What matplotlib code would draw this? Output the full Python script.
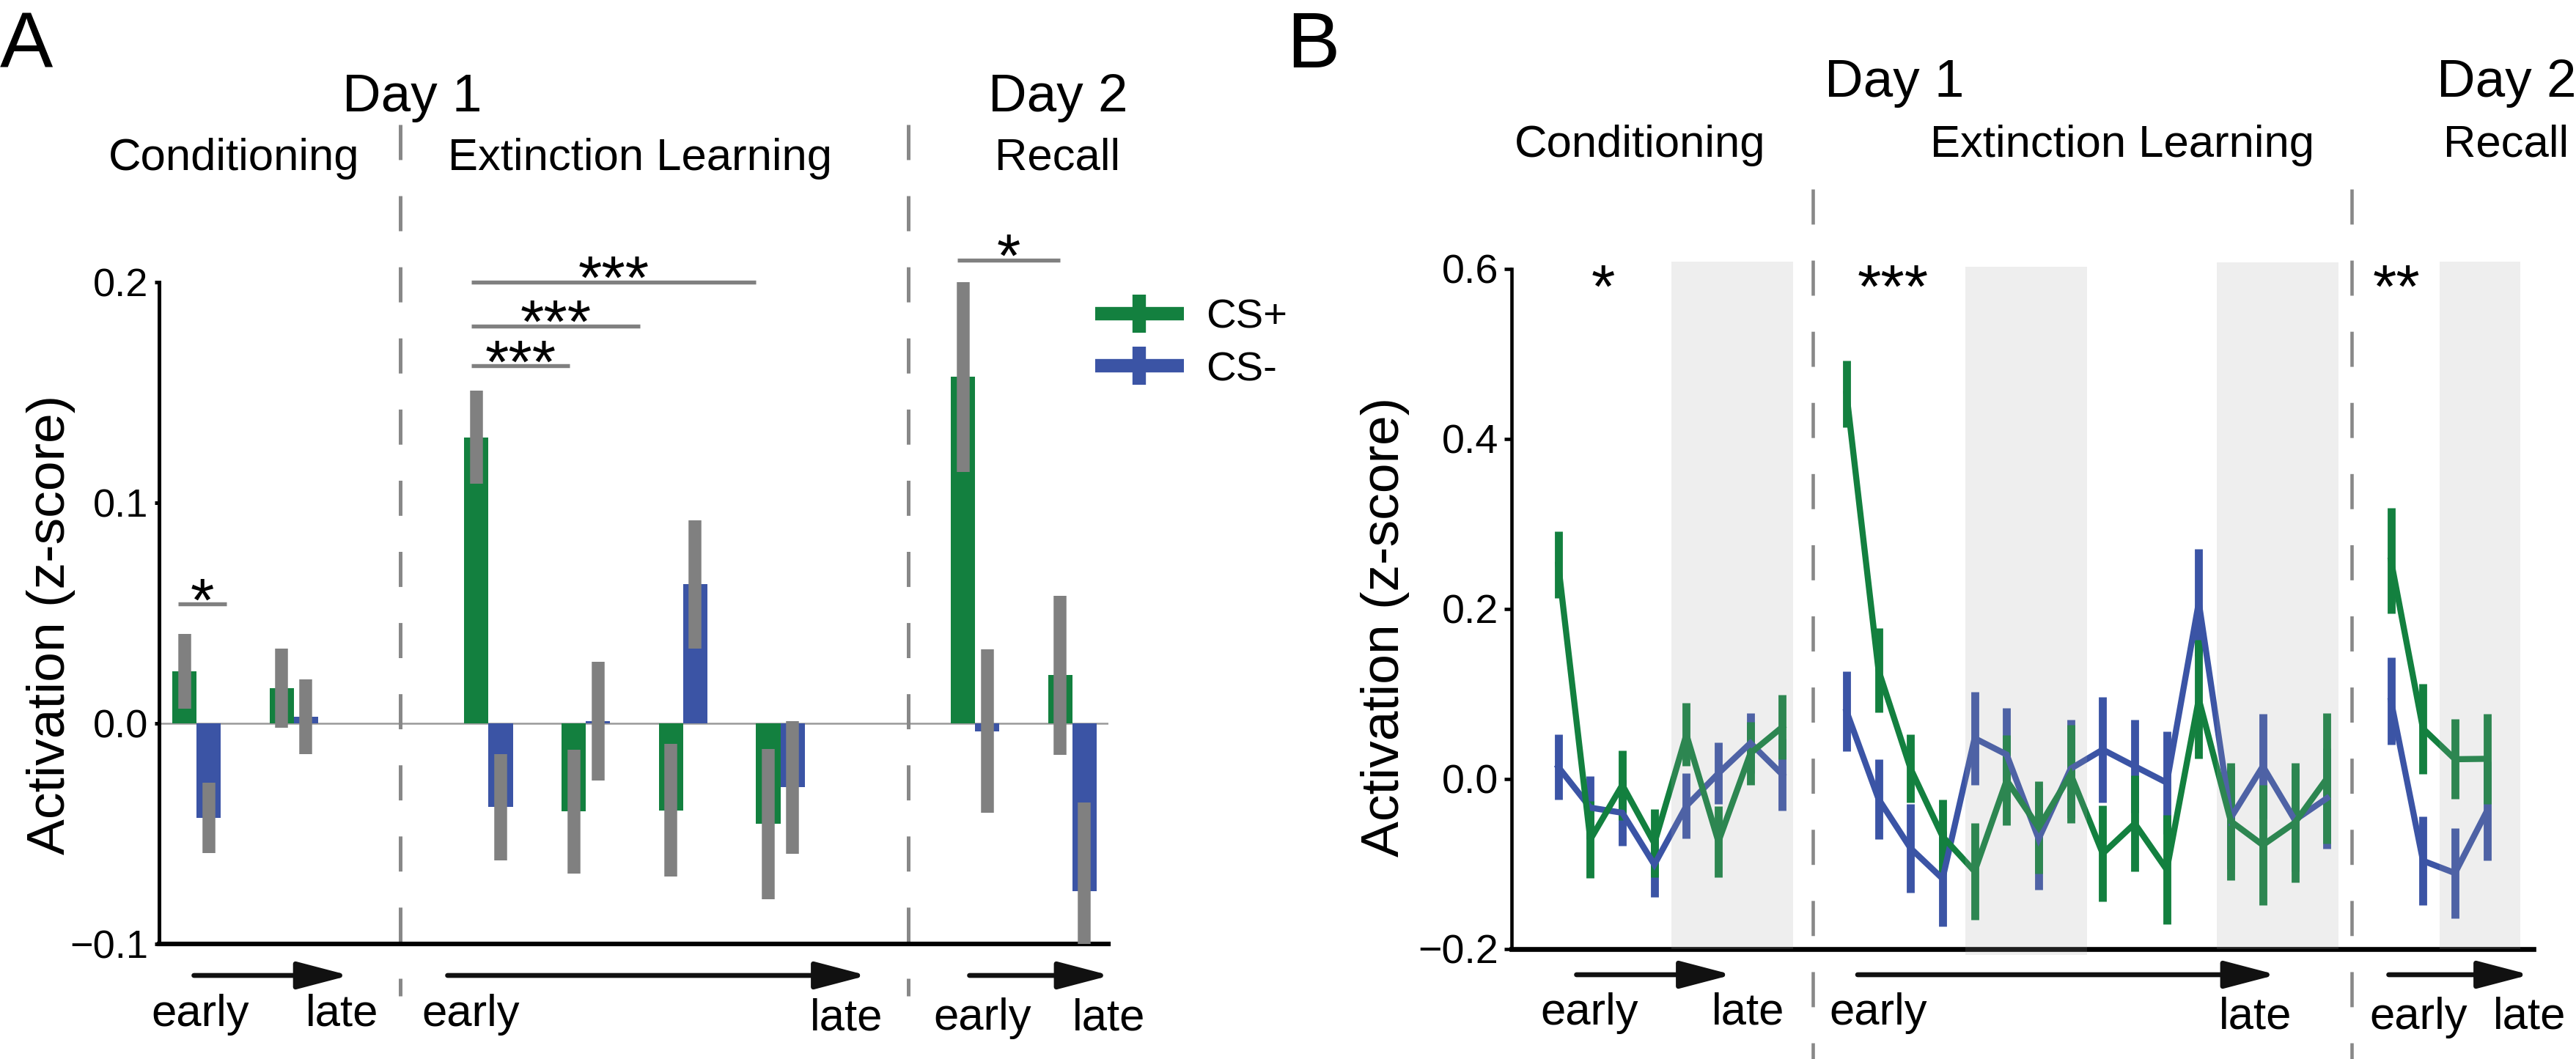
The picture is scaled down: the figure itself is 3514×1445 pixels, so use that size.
import matplotlib
matplotlib.use('Agg')
import matplotlib.pyplot as plt
import numpy as np
from matplotlib.lines import Line2D
from matplotlib.patches import FancyArrowPatch, ArrowStyle
from matplotlib.transforms import blended_transform_factory

plt.rcParams['font.family'] = ['Liberation Sans', 'DejaVu Sans']
plt.rcParams['lines.scale_dashes'] = False

W, H, DPI = 3514, 1445, 300

green = '#13803f'
blue = '#3b54a5'
grey = '#808080'
dash_grey = '#888888'

# ---------------- panel A data (bar means +- sem) ----------------
a_groups = ['cond early', 'cond late', 'ext 1', 'ext 2', 'ext 3', 'ext 4', 'recall early', 'recall late']
a_csp = [0.0235, 0.016, 0.1297, -0.040, -0.0394, -0.0456, 0.157, 0.0218]
a_csp_err = [0.017, 0.018, 0.021, 0.028, 0.030, 0.034, 0.043, 0.036]
a_csm = [-0.0428, 0.003, -0.038, 0.001, 0.063, -0.029, -0.0036, -0.076]
a_csm_err = [0.016, 0.017, 0.024, 0.027, 0.029, 0.030, 0.037, 0.040]
a_slot = [0, 1, 3, 4, 5, 6, 8, 9]

# significance brackets in panel A
sig_x0 = [-0.19, 2.825, 2.825, 2.825, 7.82]
sig_x1 = [0.31, 3.83, 4.56, 5.75, 8.87]
sig_y = [0.054, 0.162, 0.180, 0.200, 0.210]
sig_txt = ['*', '***', '***', '***', '*']

# ---------------- panel B data (trial means +- sem) ----------------
b_csp_cond = [0.252, -0.0715, -0.0073, -0.076, 0.052, -0.074, 0.030, 0.061]
b_csp_cond_err = [0.039, 0.045, 0.041, 0.040, 0.037, 0.042, 0.037, 0.038]
b_csm_cond = [0.0139, -0.034, -0.040, -0.101, -0.032, 0.0064, 0.042, 0.0048]
b_csm_cond_err = [0.038, 0.037, 0.0385, 0.0385, 0.0385, 0.036, 0.035, 0.042]

b_csp_ext = [0.453, 0.1276, 0.012, -0.068, -0.109, -0.0018, -0.0575, 0.0053,
             -0.088, -0.0527, -0.107, 0.0937, -0.050, -0.078, -0.0517, 0.0004]
b_csp_ext_err = [0.039, 0.0496, 0.040, 0.0435, 0.0567, 0.053, 0.0545, 0.0578,
                 0.0565, 0.0565, 0.064, 0.0696, 0.069, 0.071, 0.070, 0.0765]
b_csm_ext = [0.0794, -0.0238, -0.0818, -0.1176, 0.0477, 0.0285, -0.0707, 0.0119,
             0.0343, 0.0147, -0.0046, 0.2075, -0.046, 0.0147, -0.0486, -0.0229]
b_csm_ext_err = [0.047, 0.047, 0.052, 0.056, 0.055, 0.055, 0.060, 0.058,
                 0.062, 0.055, 0.0606, 0.063, 0.060, 0.062, 0.060, 0.059]

b_csp_rec = [0.257, 0.059, 0.023, 0.0235]
b_csp_rec_err = [0.062, 0.053, 0.047, 0.053]
b_csm_rec = [0.0918, -0.0965, -0.111, -0.0377]
b_csm_rec_err = [0.0512, 0.052, 0.053, 0.058]

b_offsets = [0, 9, 26]   # first trial slot of each phase

# late-trial shading (slot units) and significance stars
shade_x0 = [3.53, 12.71, 20.57, 27.53]
shade_x1 = [7.33, 16.51, 24.36, 30.03]
shade_top = [0.609, 0.603, 0.608, 0.609]
shade_bot = [-0.2, -0.207, -0.2, -0.2]
b_star_x = [1.40, 10.44, 26.17]
b_star_txt = ['*', '***', '**']


def fxy(px, py):
    # full-size pixel position -> figure fraction
    return px / W, 1 - py / H


fig = plt.figure(figsize=(W / DPI, H / DPI), dpi=DPI)

# ======================= panel A =======================
axA = fig.add_axes([0.06175, 0.10865, 0.43027 - 0.06175, 0.79605 - 0.10865])
xs = np.array(a_slot, dtype=float)
axA.axhline(0, color='#999999', lw=0.6, zorder=1)
axA.bar(xs - 0.125, a_csp, width=0.25, color=green, zorder=2)
axA.bar(xs + 0.125, a_csm, width=0.25, color=blue, zorder=2)
axA.errorbar(xs - 0.125, a_csp, yerr=a_csp_err, fmt='none', ecolor=grey, elinewidth=4.2, capsize=0, zorder=3)
axA.errorbar(xs + 0.125, a_csm, yerr=a_csm_err, fmt='none', ecolor=grey, elinewidth=4.2, capsize=0, zorder=3)

for x0, x1, y, s in zip(sig_x0, sig_x1, sig_y, sig_txt):
    axA.plot([x0, x1], [y, y], color=grey, lw=1.3, solid_capstyle='butt', clip_on=False)
    axA.annotate(s, xy=((x0 + x1) / 2, y), xytext=(0, -5.5), textcoords='offset points',
                 ha='center', va='baseline', fontsize=20)

axA.set_xlim(-0.385, 9.37)
axA.set_ylim(-0.1, 0.23)
axA.set_yticks([-0.1, 0.0, 0.1, 0.2])
axA.set_yticklabels(['\u22120.1', '0.0', '0.1', '0.2'])
axA.set_xticks([])
axA.spines['top'].set_visible(False)
axA.spines['right'].set_visible(False)
axA.spines['left'].set_bounds(-0.1, 0.2)
axA.spines['left'].set_linewidth(1.2)
axA.spines['bottom'].set_linewidth(1.5)
axA.tick_params(axis='y', length=1.5, width=1.2, pad=2, labelsize=13)

transA = blended_transform_factory(axA.transData, fig.transFigure)
for xd in [2.09, 7.31]:
    axA.plot([xd, xd], [1 - 170 / H, 1 - 1359 / H], transform=transA, clip_on=False,
             color=dash_grey, lw=1.2, dashes=(11.5, 11.8))

# ======================= panel B =======================
axB = fig.add_axes([0.58668, 0.10415, 0.98349 - 0.58668, 0.76207 - 0.10415])
phases = [(b_csp_cond, b_csp_cond_err, b_csm_cond, b_csm_cond_err),
          (b_csp_ext, b_csp_ext_err, b_csm_ext, b_csm_ext_err),
          (b_csp_rec, b_csp_rec_err, b_csm_rec, b_csm_rec_err)]
for off, (p, pe, m, me) in zip(b_offsets, phases):
    x = off + np.arange(len(p))
    axB.errorbar(x, m, yerr=me, fmt='none', ecolor=blue, elinewidth=2.6, capsize=0, zorder=2)
    axB.errorbar(x, p, yerr=pe, fmt='none', ecolor=green, elinewidth=2.6, capsize=0, zorder=2.1)
    axB.plot(x, m, color=blue, lw=2.0, solid_joinstyle='miter', zorder=2.2)
    axB.plot(x, p, color=green, lw=2.0, solid_joinstyle='miter', zorder=2.3)

for s0, s1, t, b in zip(shade_x0, shade_x1, shade_top, shade_bot):
    pc = axB.fill_between([s0, s1], b, t, color='#a6a6a6', alpha=0.18, lw=0, zorder=5)
    pc.set_clip_on(False)

for x, s in zip(b_star_x, b_star_txt):
    axB.annotate(s, xy=(x, 0.596), xytext=(0, -11.5), textcoords='offset points',
                 ha='center', va='baseline', fontsize=20)

axB.set_xlim(-1.467, 30.45)
axB.set_ylim(-0.2, 0.62)
axB.set_yticks([-0.2, 0.0, 0.2, 0.4, 0.6])
axB.set_yticklabels(['\u22120.2', '0.0', '0.2', '0.4', '0.6'])
axB.set_xticks([])
axB.spines['top'].set_visible(False)
axB.spines['right'].set_visible(False)
axB.spines['left'].set_bounds(-0.2, 0.6)
axB.spines['left'].set_linewidth(1.1)
axB.spines['bottom'].set_linewidth(1.6)
axB.tick_params(axis='y', length=2.5, width=1.1, pad=1.7, labelsize=13.4)

transB = blended_transform_factory(axB.transData, fig.transFigure)
for xd in [7.94, 24.78]:
    axB.plot([xd, xd], [1 - 258 / H, 0.0], transform=transB, clip_on=False,
             color=dash_grey, lw=1.1, dashes=(11.5, 11.8))

# ======================= legend =======================
handles = [Line2D([], [], color=green, lw=4.4, marker='|', markersize=12.3, mew=4.4, solid_capstyle='butt'),
           Line2D([], [], color=blue, lw=4.4, marker='|', markersize=12.3, mew=4.4, solid_capstyle='butt')]
fig.legend(handles, ['CS+', 'CS-'], loc='center left', bbox_to_anchor=fxy(1494, 469.5),
           bbox_transform=fig.transFigure, frameon=False, fontsize=13.5, handlelength=2.15,
           handletextpad=0.53, labelspacing=0.34, borderpad=0, borderaxespad=0, numpoints=1)

# ======================= text labels =======================
fig.text(*fxy(0, 92), 'A', fontsize=26, ha='left', va='baseline')
fig.text(*fxy(1755, 92), 'B', fontsize=26, ha='left', va='baseline')

headers = [('Day 1', 562, 152, 17.5), ('Conditioning', 319, 232, 14.8),
           ('Extinction Learning', 873, 232, 14.8), ('Day 2', 1443, 152, 17.5),
           ('Recall', 1443, 232, 14.8),
           ('Day 1', 2584, 132, 17.5), ('Conditioning', 2237, 214, 14.8),
           ('Extinction Learning', 2895, 214, 14.8), ('Day 2', 3419, 132, 17.5),
           ('Recall', 3419, 214, 14.8)]
for s, px, py, fs in headers:
    fig.text(*fxy(px, py), s, fontsize=fs, ha='center', va='baseline')

fig.text(*fxy(70, 852.5), 'Activation (z-score)', rotation=90, fontsize=17.6, ha='center', va='center')
fig.text(*fxy(1890, 855), 'Activation (z-score)', rotation=90, fontsize=17.6, ha='center', va='center')

# early -> late arrows under each phase
arrows = [(264.5, 476.6, 1331), (610.5, 1183, 1331), (1322.5, 1514.5, 1331),
          (2150.5, 2363, 1330), (2534, 3105.5, 1330), (3258.5, 3451, 1330)]
for x0, x1, y in arrows:
    fig.add_artist(FancyArrowPatch(fxy(x0, y), fxy(x1, y), transform=fig.transFigure,
                                   arrowstyle=ArrowStyle('-|>', head_length=14.5, head_width=3.8),
                                   mutation_scale=1, lw=1.6, color='#111111',
                                   shrinkA=0, shrinkB=0))

time_labels = [('early', 273, 1400), ('late', 467, 1400), ('early', 642, 1400),
               ('late', 1155, 1405), ('early', 1340, 1405), ('late', 1513, 1405),
               ('early', 2168, 1398), ('late', 2385, 1398), ('early', 2562, 1398),
               ('late', 3077, 1404), ('early', 3299, 1404), ('late', 3451, 1404)]
for s, px, py in time_labels:
    fig.text(*fxy(px, py), s, fontsize=14.8, ha='center', va='baseline')

fig.savefig('out.png', dpi=DPI)
